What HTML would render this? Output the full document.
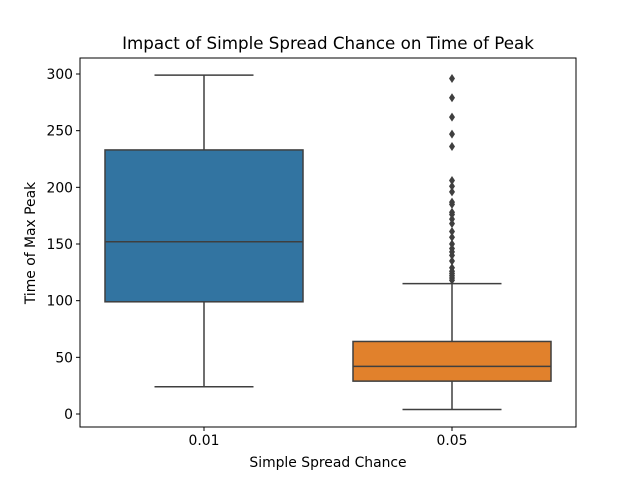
<!DOCTYPE html>
<html><head><meta charset="utf-8"><style>
body{margin:0;background:#fff;font-family:"Liberation Sans",sans-serif}
svg text{font-family:"DejaVu Sans","Liberation Sans",sans-serif;fill:#000}
</style></head><body>
<svg id="c" width="640" height="480" viewBox="0 0 640 480"></svg>
<script>
const categories=["0.01","0.05"];
const colors=["#3274a1","#e1812c"];
const whiskerLow=[24,4];
const q1=[99,29];
const medians=[152,42];
const q3=[233,64];
const whiskerHigh=[299,115];
const outliers0=[];
const outliers1=[296,279,262,247,236,206,201,196,187,185,178,176,172,168,161,156,150,146,143,140,135,129,126,124,122,120,118];
const outliers=[outliers0,outliers1];
const yTicks=[0,50,100,150,200,250,300];

const NS="http://www.w3.org/2000/svg";
const svg=document.getElementById('c');
const L=80,R=576,T=58,B=427;
const y=v=>414-v*(340/300);
const x=i=>L+(R-L)/categories.length*(i+0.5);
function mk(t,a){const e=document.createElementNS(NS,t);for(const k in a)e.setAttribute(k,a[k]);svg.appendChild(e);return e;}
const g='#3f3f3f';
categories.forEach((c,i)=>{
  const cx=x(i),hw=99;
  let e=mk('line',{x1:cx,x2:cx,y1:y(whiskerLow[i]),y2:y(q1[i]),stroke:g,'stroke-width':1.5});
  
  e=mk('line',{x1:cx,x2:cx,y1:y(q3[i]),y2:y(whiskerHigh[i]),stroke:g,'stroke-width':1.5});
  
  e=mk('line',{x1:cx-49.5,x2:cx+49.5,y1:y(whiskerLow[i]),y2:y(whiskerLow[i]),stroke:g,'stroke-width':1.5});
  
  e=mk('line',{x1:cx-49.5,x2:cx+49.5,y1:y(whiskerHigh[i]),y2:y(whiskerHigh[i]),stroke:g,'stroke-width':1.5});
  
  e=mk('rect',{x:cx-hw,y:y(q3[i]),width:hw*2,height:y(q1[i])-y(q3[i]),fill:colors[i],stroke:g,'stroke-width':1.5});
  
  e=mk('line',{x1:cx-hw,x2:cx+hw,y1:y(medians[i]),y2:y(medians[i]),stroke:g,'stroke-width':1.5});
  
  outliers[i].forEach(v=>{
    const py=y(v);
    const p=mk('polygon',{points:`${cx},${py-4.5} ${cx+3},${py} ${cx},${py+4.5} ${cx-3},${py}`,fill:g});
    
  });
  e=mk('line',{x1:cx,x2:cx,y1:B,y2:B+4,stroke:'#000'});
  
  e=mk('text',{x:cx,y:B+18,'text-anchor':'middle','font-size':13.9});e.textContent=c;
  
});
yTicks.forEach(v=>{
  let e=mk('line',{x1:L-4,x2:L,y1:y(v),y2:y(v),stroke:'#000'});
  
  e=mk('text',{x:L-7,y:y(v)+5,'text-anchor':'end','font-size':13.9});e.textContent=v;
  
});
let e=mk('rect',{x:L,y:T,width:R-L,height:B-T,fill:'none',stroke:'#000','stroke-width':1});

e=mk('text',{x:328,y:49,'text-anchor':'middle','font-size':16.7});e.textContent='Impact of Simple Spread Chance on Time of Peak';

e=mk('text',{x:328,y:467,'text-anchor':'middle','font-size':13.9});e.textContent='Simple Spread Chance';

e=mk('text',{x:0,y:0,'text-anchor':'middle','font-size':13.9,transform:'translate(35,243) rotate(-90)'});e.textContent='Time of Max Peak';

</script>
</body></html>
